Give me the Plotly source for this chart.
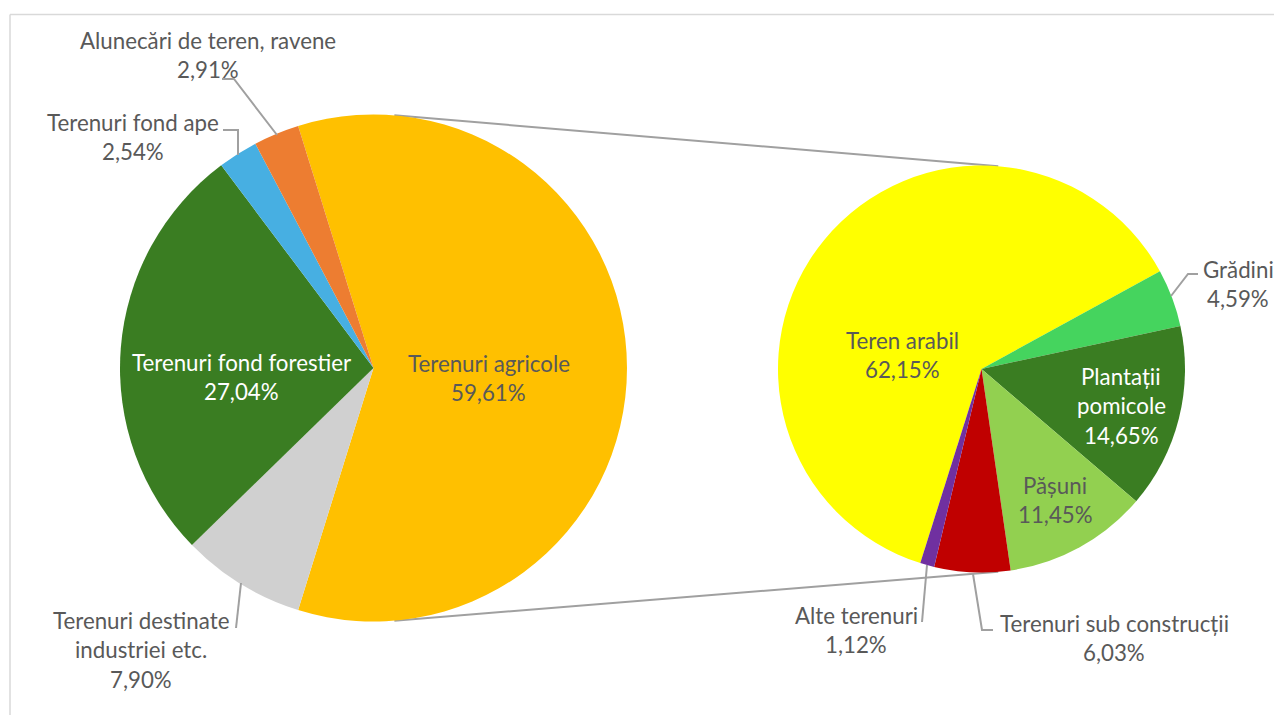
import math
import plotly.graph_objects as go

W, H = 1282, 715
OFF = 8  # page body margin in the browser

# ---- data ----
main_labels = ["Terenuri agricole", "Terenuri destinate\nindustriei etc.", "Terenuri fond forestier",
               "Terenuri fond ape", "Alunecări de teren, ravene"]
main_values = [59.61, 7.90, 27.04, 2.54, 2.91]
main_colors = ["#FFC000", "#D0D0D0", "#3A7D22", "#47AFE2", "#ED7D31"]

sub_labels = ["Teren arabil", "Grădini", "Plantații\npomicole", "Pășuni",
              "Terenuri sub construcții", "Alte terenuri"]
sub_values = [62.15, 4.59, 14.65, 11.45, 6.03, 1.12]
sub_colors = ["#FFFF00", "#45D45E", "#3A7D22", "#92D050", "#C00000", "#7030A0"]

# ---- layout geometry (pixels in the screenshot) ----
big_c, big_r = (373.5, 368.0), 253.5
small_c, small_r = (981.5, 369.0), 203.5

# label placement: (center x, first line y, text colour)
main_lbl_pos = [(488.5, 362, "#595959"), (141, 619, "#595959"), (241.5, 361, "#FFFFFF"),
                (133, 121, "#595959"), (207.5, 38.5, "#595959")]
sub_lbl_pos = [(902, 339, "#595959"), (1238, 268, "#595959"), (1121, 375, "#FFFFFF"),
               (1055, 484, "#595959"), (1114, 622, "#595959"), (856, 614, "#595959")]
LINE_SP = 29.3

# leader lines (pixel paths) for outside labels
main_leaders = [None, [(236, 628), (241, 583)], None,
                [(223, 130), (238, 130), (238, 155)],
                [(222, 79), (234, 79), (277, 135)]]
sub_leaders = [None, [(1198, 274), (1188, 274), (1171, 296)], None, None,
               [(973, 574), (982, 630), (993, 630)], [(922, 622), (927, 565)]]

FONT = "Lato"
FS = 22.3

FW, FH = W - OFF, H - OFF


def px(x):
    return (x - OFF) / FW


def py(y):
    return 1 - (y - OFF) / FH


def dom(c, r):
    return dict(x=[px(c[0] - r), px(c[0] + r)], y=[py(c[1] + r), py(c[1] - r)])


def pct(v):
    return f"{v:.2f}".replace(".", ",") + "%"


fig = go.Figure()

# start angle so the agricultural slice is centred at 3 o'clock
main_rot = 90 - main_values[0] / sum(main_values) * 360 / 2
fig.add_trace(go.Pie(values=main_values, labels=[l.replace("\n", " ") for l in main_labels],
                     sort=False, direction="clockwise", rotation=main_rot,
                     marker=dict(colors=main_colors, line=dict(width=0)),
                     textinfo="none", hoverinfo="skip", domain=dom(big_c, big_r),
                     showlegend=False))
fig.add_trace(go.Pie(values=sub_values, labels=[l.replace("\n", " ") for l in sub_labels],
                     sort=False, direction="clockwise", rotation=197.5,
                     marker=dict(colors=sub_colors, line=dict(width=0)),
                     textinfo="none", hoverinfo="skip", domain=dom(small_c, small_r),
                     showlegend=False))

annotations = []


def add_labels(labels, values, positions):
    for lab, v, (cx, cy, col) in zip(labels, values, positions):
        lines = lab.split("\n") + [pct(v)]
        for i, t in enumerate(lines):
            annotations.append(dict(text=t, x=px(cx), y=py(cy + i * LINE_SP + 1.5),
                                    xref="paper", yref="paper", xanchor="center",
                                    yanchor="middle", showarrow=False,
                                    font=dict(family=FONT, size=FS, color=col)))


add_labels(main_labels, main_values, main_lbl_pos)
add_labels(sub_labels, sub_values, sub_lbl_pos)

shapes = []
# chart frame
shapes.append(dict(type="line", xref="paper", yref="paper", x0=px(10), x1=1.0, y0=py(14.5), y1=py(14.5),
                   line=dict(color="#D9D9D9", width=1.5)))
shapes.append(dict(type="line", xref="paper", yref="paper", x0=px(10), x1=px(10), y0=py(14.5), y1=0,
                   line=dict(color="#D9D9D9", width=1.5)))

# connector lines: external tangents of the two circles
dx = small_c[0] - big_c[0]
phi = math.asin((big_r - small_r) / dx)
for sgn in (-1, 1):
    x0 = big_c[0] + big_r * math.sin(phi)
    y0 = big_c[1] + sgn * big_r * math.cos(phi)
    x1 = small_c[0] + small_r * math.sin(phi)
    y1 = small_c[1] + sgn * small_r * math.cos(phi)
    shapes.append(dict(type="line", xref="paper", yref="paper", x0=px(x0), y0=py(y0),
                       x1=px(x1), y1=py(y1), layer="below",
                       line=dict(color="#A0A0A0", width=2)))

for path in main_leaders + sub_leaders:
    if not path:
        continue
    d = "M " + " L ".join(f"{px(x)},{py(y)}" for x, y in path)
    shapes.append(dict(type="path", xref="paper", yref="paper", path=d,
                       line=dict(color="#A0A0A0", width=2)))

fig.update_layout(width=FW, height=FH, margin=dict(l=0, r=0, t=0, b=0),
                  paper_bgcolor="white", plot_bgcolor="white",
                  annotations=annotations, shapes=shapes, showlegend=False)

fig.write_html("out.html")
